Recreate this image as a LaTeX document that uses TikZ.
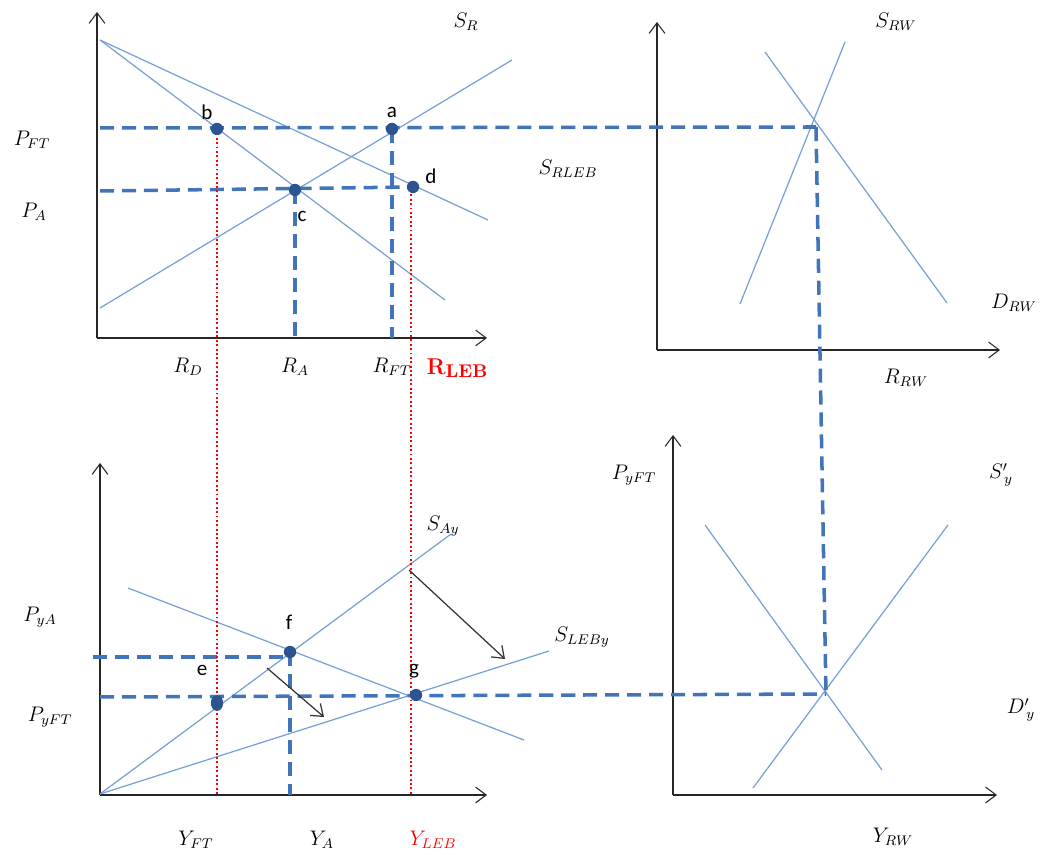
\documentclass[tikz,border=0pt]{standalone}
\usepackage{amsmath}
\usepackage{fontspec}
\newfontfamily\ptfont{Carlito}
\usetikzlibrary{arrows.meta,shapes.geometric}
\definecolor{curveblue}{RGB}{118,160,214}
\definecolor{guideblue}{RGB}{66,116,186}
\definecolor{dotblue}{RGB}{44,84,145}
\tikzset{
  axis/.style={->,line width=0.6pt,black!85},
  curve/.style={curveblue,line width=0.7pt},
  guide/.style={guideblue,line width=2pt,dash pattern=on 8pt off 4.5pt},
  redline/.style={red,line width=1.3pt,dash pattern=on 1.1pt off 1.4pt},
  dot/.style={circle,fill=dotblue,inner sep=0pt,minimum size=7pt},
  ptname/.style={font=\ptfont\fontsize{12}{14}\selectfont},
  lbl/.style={font=\fontsize{12}{15}\selectfont},
  shiftarrow/.style={->,line width=0.7pt,black!80}
}

\begin{document}
\begin{tikzpicture}[x=0.02cm,y=-0.02cm,>={Straight Barb[length=6pt,width=9pt]}]
\useasboundingbox (0,0) rectangle (1042,857);
% axes
\coordinate (o1) at (97,338);  \coordinate (o2) at (657,350);
\coordinate (o3) at (100,795); \coordinate (o4) at (673,795);
\draw[axis] (o1) -- (97,12);   \draw[axis] (o1) -- (487,338);
\draw[axis] (o2) -- (657,22);  \draw[axis] (o2) -- (1000,350);
\draw[axis] (o3) -- (100,463); \draw[axis] (o3) -- (487,795);
\draw[axis] (o4) -- (673,435); \draw[axis] (o4) -- (997,795);

% curves
\draw[curve] (100,40) -- (445,300);
\draw[curve] (100,40) -- (488,220);
\draw[curve] (100,308) -- (512,60);
\draw[curve] (740,304) -- (845,42);
\draw[curve] (765,52) -- (947,303);
\draw[curve] (100,794) -- (451,534);
\draw[curve] (100,794) -- (549,651);
\draw[curve] (128,588) -- (524,740);
\draw[curve] (705,525) -- (882,770);
\draw[curve] (753,788) -- (948,525);

% points
\coordinate (a) at (392,129); \coordinate (b) at (217,129);
\coordinate (c) at (295,190); \coordinate (d) at (413,187);
\coordinate (e) at (217,703); \coordinate (f) at (290,652);
\coordinate (g) at (416,695);
\coordinate (rw) at (816,127); \coordinate (yw) at (826,694);

% guides
\draw[guide] (100,128) -- (rw);
\draw[guide] (rw) -- (yw);
\draw[guide] (100,191) -- (d);
\draw[guide] (c) -- (c |- o1);
\draw[guide] (a) -- (a |- o1);
\draw[guide] (93,657) -- (290,657);
\draw[guide] (f) -- (f |- o3);
\draw[guide] (100,697) -- (yw);
\draw[redline] (b) -- (b |- o3);
\draw[redline] (411,190) -- (411,795);

% shifts
\draw[shiftarrow] (267,668) -- (324,717);
\draw[shiftarrow] (409,570) -- (505,659);

\foreach \p in {a,b,c,d,f,g}
  \node[dot] (dot-\p) at (\p) {};
\node[dot,ellipse,minimum width=7pt,minimum height=9pt] (dot-e) at (e) {};

% point names
\node[ptname] (na) at (392,112) {a};
\node[ptname] (nb) at (207,112) {b};
\node[ptname] (nc) at (302,216) {c};
\node[ptname] (nd) at (431,176) {d};
\node[ptname] (ne) at (202,670) {e};
\node[ptname] (nf) at (289,622) {f};
\node[ptname] (ng) at (414,671) {g};

% labels
\node[lbl] (lSR) at (466,22) {$S_R$};
\node[lbl] (lPFT) at (32,140) {$P_{FT}$};
\node[lbl] (lPA) at (34,212) {$P_A$};
\node[lbl] (lRD) at (188,367) {$R_D$};
\node[lbl] (lRA) at (295,367) {$R_A$};
\node[lbl] (lRFT) at (392,367) {$R_{FT}$};
\node[lbl,red,font=\bfseries\fontsize{13}{15}\selectfont] (lRLEB) at (457,368)
  {R\raisebox{-0.35ex}{\fontsize{10.5}{12}\selectfont LEB}};
\node[lbl] (lSRLEB) at (568,169) {$S_{RLEB}$};
\node[lbl] (lSRW) at (896,22) {$S_{RW}$};
\node[lbl] (lDRW) at (1014,303) {$D_{RW}$};
\node[lbl] (lRRW) at (906,378) {$R_{RW}$};
\node[lbl] (lPyA) at (40,617) {$P_{yA}$};
\node[lbl] (lPyFT) at (50,717) {$P_{yFT}$};
\node[lbl] (lYFT) at (196,840) {$Y_{FT}$};
\node[lbl] (lYA) at (322,840) {$Y_A$};
\node[lbl,red] (lYLEB) at (433,840) {$Y_{LEB}$};
\node[lbl] (lSAy) at (443,526) {$S_{Ay}$};
\node[lbl] (lSLEBy) at (582,637) {$S_{LEBy}$};
\node[lbl] (lPyFT2) at (634,475) {$P_{yFT}$};
\node[lbl] (lSy) at (1001,475) {$S'_{\,y}$};
\node[lbl] (lDy) at (1021,710) {$D'_{\,y}$};
\node[lbl] (lYRW) at (893,837) {$Y_{RW}$};
\end{tikzpicture}
\end{document}
